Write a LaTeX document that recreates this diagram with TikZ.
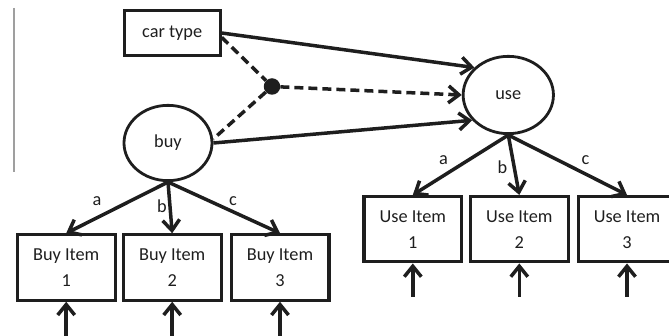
\documentclass[tikz,border=0pt]{standalone}
\usepackage{fontspec}
\setmainfont{Carlito}
\usetikzlibrary{arrows.meta,shapes.geometric}
\definecolor{ink}{HTML}{1E1E1E}
\begin{document}
\begin{tikzpicture}[x=1pt,y=-1pt,
  every node/.style={font=\fontsize{18.3}{26}\selectfont, text=ink},
  tip/.style={-{Straight Barb[length=10.5pt,width=17pt]}},
  conn/.style={draw=ink, line width=3.5pt, tip},
  dsh/.style={draw=ink, line width=3.5pt, dash pattern=on 9pt off 5pt},
  box/.style={draw=ink, line width=3.2pt, rectangle, minimum width=97.8pt, minimum height=65.3pt, align=center, inner sep=0pt},
  lat/.style={draw=ink, line width=2.8pt, ellipse, inner sep=0pt},
  lbl/.style={inner sep=0pt}
]
\useasboundingbox (0,0) rectangle (669,336);
\clip (0,0) rectangle (669,336);
\draw[gray!75, line width=1.5pt] (14,8) -- (14,172);

\node[box, minimum width=95.8pt, minimum height=44.3pt] (cartype) at (172.2,33) {car type};
\node[lat, minimum width=88pt, minimum height=75.3pt] (buy) at (168,143) {buy};
\node[lat, minimum width=90.3pt, minimum height=77.3pt] (use) at (508.3,95) {use};
\node[circle, fill=ink, minimum size=16.5pt, inner sep=0pt] (dot) at (272,86.5) {};

\node[box] (b1) at (66.2,267.5) {Buy Item\\1};
\node[box] (b2) at (172.2,267.5) {Buy Item\\2};
\node[box] (b3) at (280,267.5) {Buy Item\\3};
\node[box] (u1) at (412.8,229.2) {Use Item\\1};
\node[box] (u2) at (519.3,229.2) {Use Item\\2};
\node[box] (u3) at (627,229.2) {Use Item\\3};

\draw[conn] (cartype.east) -- (use.141);
\draw[dsh] (cartype.-5) -- (dot);
\draw[dsh] (dot) -- (buy.5);
\draw[dsh, tip] (dot) -- (use.west);
\draw[conn] (buy.east) -- (use.215);

\draw[conn] (buy.south) -- (b1.north);
\draw[conn] (buy.south) -- (b2.north);
\draw[conn] (buy.south) -- (b3.north);
\draw[conn] (use.south) -- (u1.north);
\draw[conn] (use.south) -- (u2.north);
\draw[conn] (use.south) -- (u3.north);

\node[lbl] (ba) at (97,201) {a};
\node[lbl] (bb) at (162,206) {b};
\node[lbl] (bc) at (233,201) {c};
\node[lbl] (ua) at (443.5,160.5) {a};
\node[lbl] (ub) at (502.5,167.5) {b};
\node[lbl] (uc) at (585.5,160.5) {c};

\coordinate (eb1) at (66.2,340);
\coordinate (eb2) at (172.2,340);
\coordinate (eb3) at (280,340);
\coordinate (eu1) at (412.8,297);
\coordinate (eu2) at (519.3,297);
\coordinate (eu3) at (627,297);
\draw[conn] (eb1) -- (b1.south);
\draw[conn] (eb2) -- (b2.south);
\draw[conn] (eb3) -- (b3.south);
\draw[conn] (eu1) -- (u1.south);
\draw[conn] (eu2) -- (u2.south);
\draw[conn] (eu3) -- (u3.south);
\end{tikzpicture}
\end{document}
